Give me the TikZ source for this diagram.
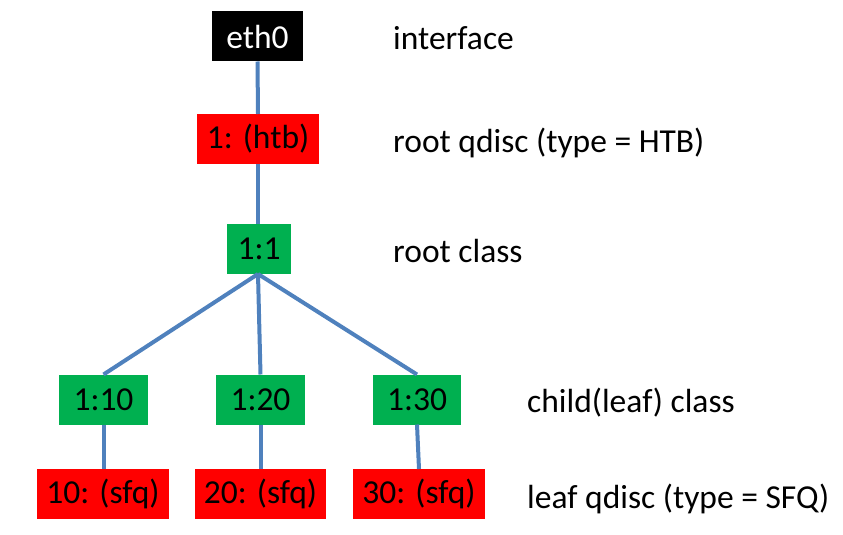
\documentclass[tikz,border=0pt]{standalone}
\usepackage{fontspec}
\setmainfont{Carlito}
\definecolor{lineblue}{HTML}{4F81BD}
\definecolor{qred}{HTML}{FF0000}
\definecolor{cgreen}{HTML}{00B050}
\begin{document}
\begin{tikzpicture}[x=1pt,y=-1pt,
  box/.style={inner sep=0pt, outer sep=0pt, minimum height=50pt, font=\fontsize{33.5}{40}\selectfont},
  qbox/.style={box, fill=qred},
  cbox/.style={box, fill=cgreen},
  ifbox/.style={box, fill=black, text=white},
  lbl/.style={anchor=base west, inner sep=0pt, font=\fontsize{33.5}{40}\selectfont},
  conn/.style={draw=lineblue, line width=4pt}]
\useasboundingbox (0,0) rectangle (843,535);
\coordinate (hub) at (258,274);
\node[ifbox, minimum width=91pt] (eth) at (257.5,36.5) {eth0};
\node[qbox, minimum width=122pt] (htb) at (258,139) {1: (htb)};
\node[cbox, minimum width=64pt] (r11) at (259,249) {1:1};
\node[cbox, minimum width=89pt] (c10) at (103.5,399.5) {1:10};
\node[cbox, minimum width=89pt] (c20) at (260.5,399.5) {1:20};
\node[cbox, minimum width=88pt] (c30) at (417,399.5) {1:30};
\node[qbox, minimum width=132pt] (q10) at (103,494) {10: (sfq)};
\node[qbox, minimum width=131pt] (q20) at (260.5,494) {20: (sfq)};
\node[qbox, minimum width=132pt] (q30) at (419,494) {30: (sfq)};
\draw[conn] (eth.south) -- (htb.north);
\draw[conn] (htb.south) -- (r11.north -| hub);
\draw[conn] (hub) -- (c10.north);
\draw[conn] (hub) -- (c20.north);
\draw[conn] (hub) -- (c30.north);
\draw[conn] (c10.south) -- (q10.north -| c10.south);
\draw[conn] (c20.south) -- (q20.north);
\draw[conn] (c30.south) -- (q30.north);
\node[lbl] (l1) at (393,49) {interface};
\node[lbl] (l2) at (393,152) {root qdisc (type = HTB)};
\node[lbl] (l3) at (393,262) {root class};
\node[lbl] (l4) at (527,412) {child(leaf) class};
\node[lbl] (l5) at (527,508) {leaf qdisc (type = SFQ)};
\end{tikzpicture}
\end{document}
